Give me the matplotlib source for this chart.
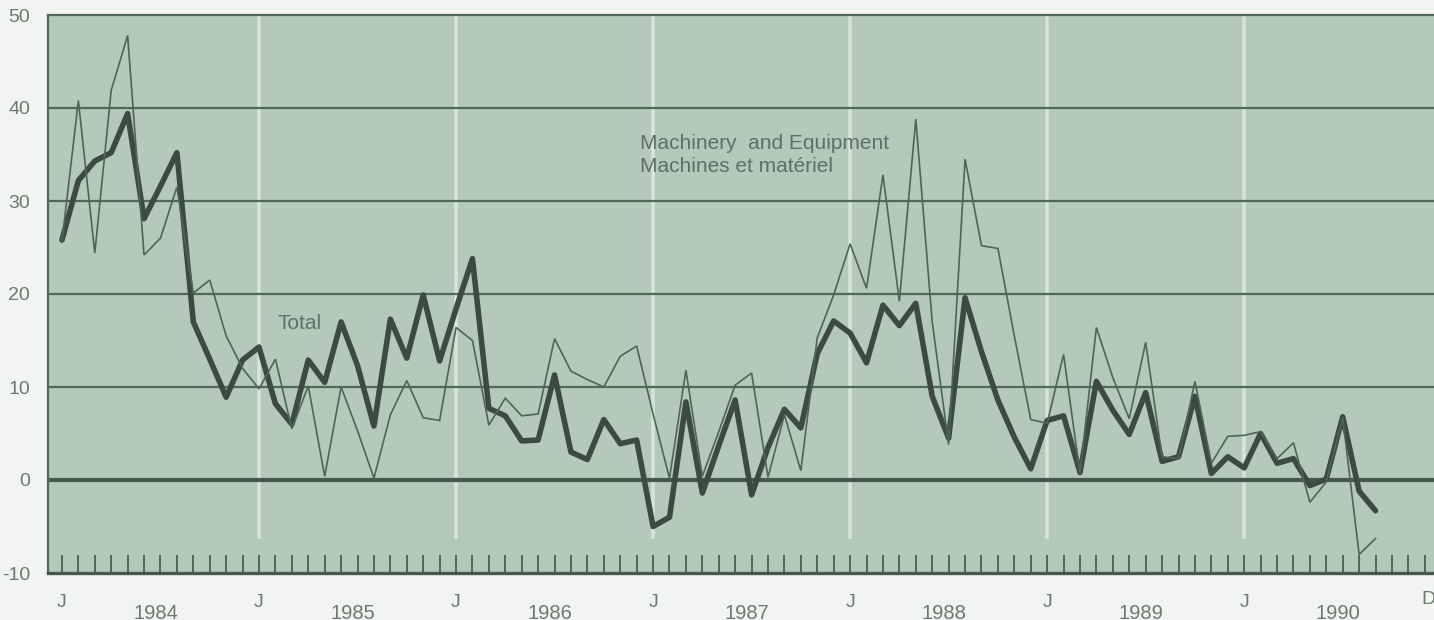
import matplotlib
matplotlib.use("Agg")
import matplotlib.pyplot as plt

# ---------------- data (monthly, Jan 1984 .. Sep 1990) ----------------
total = [25.8, 32.2, 34.3, 35.2, 39.4, 28.1, 31.6, 35.2, 17.0, 13.0,
         8.9, 12.9, 14.3, 8.2, 6.0, 12.9, 10.5, 17.0, 12.3, 5.8,
         17.3, 13.1, 19.9, 12.8, 18.4, 23.8, 7.7, 6.9, 4.2, 4.3,
         11.3, 3.0, 2.2, 6.5, 3.9, 4.3, -5.0, -4.0, 8.4, -1.4,
         3.7, 8.6, -1.6, 3.5, 7.6, 5.6, 13.6, 17.1, 15.8, 12.6,
         18.8, 16.6, 19.0, 9.0, 4.5, 19.6, 13.8, 8.6, 4.6, 1.2,
         6.4, 6.9, 0.8, 10.6, 7.5, 4.9, 9.4, 2.0, 2.5, 9.0,
         0.7, 2.5, 1.3, 5.0, 1.8, 2.3, -0.6, 0.1, 6.8, -1.2, -3.3]

machinery = [25.6, 40.8, 24.4, 41.9, 47.8, 24.2, 26.0, 31.5, 20.1, 21.5,
             15.5, 12.0, 9.8, 13.0, 5.5, 10.1, 0.4, 10.0, 5.3, 0.2,
             7.0, 10.7, 6.7, 6.4, 16.4, 15.0, 5.9, 8.8, 6.9, 7.1,
             15.2, 11.7, 10.8, 10.0, 13.3, 14.4, 7.1, 0.2, 11.8, 0.4,
             5.2, 10.2, 11.5, 0.3, 7.0, 1.0, 15.3, 19.9, 25.4, 20.6,
             32.8, 19.2, 38.8, 17.0, 3.8, 34.5, 25.2, 24.9, 15.5, 6.5,
             6.1, 13.5, 0.7, 16.4, 11.0, 6.6, 14.8, 2.5, 2.3, 10.6,
             1.8, 4.7, 4.8, 5.2, 2.3, 4.0, -2.4, -0.2, 6.7, -8.0, -6.3]

years = ["1984", "1985", "1986", "1987", "1988", "1989", "1990"]
y_ticks = [-10, 0, 10, 20, 30, 40, 50]
y_labels = ["-10", "0", "10", "20", "30", "40", "50"]
label_total = "Total"
label_mach = ["Machinery  and Equipment", "Machines et matériel"]

# ---------------- style ----------------
plt.rcParams["font.family"] = ["Liberation Sans", "DejaVu Sans"]
W, H = 1434, 620
panel = "#b5c9ba"
grid_c = "#4f6857"
text_c = "#6b7a71"
thick_c = "#3d4a42"
thin_c = "#4b6654"

fig = plt.figure(figsize=(W / 100, H / 100), dpi=100)
fig.patch.set_facecolor("#f2f4f1")
ax = fig.add_axes([48 / W, 1 - 573 / H, (W - 48) / W, (573 - 15) / H])
ax.set_facecolor(panel)

n_months = 84
ax.set_xlim(-0.85, 83.56)
ax.set_ylim(-10, 50)

# light vertical separators at each January
for j in range(12, n_months, 12):
    ax.axvline(j, ymin=0.065, ymax=1, color="#d6e4d9", lw=2.6, zorder=1)

# horizontal grid
for v in y_ticks[2:-1]:
    ax.axhline(v, color=grid_c, lw=1.6, zorder=2)
ax.axhline(0, color="#45584b", lw=3.0, zorder=2)

x = list(range(len(total)))
ax.plot(x, total, color=thick_c, lw=4.0, solid_joinstyle="round",
        solid_capstyle="round", zorder=4)
ax.plot(x, machinery, color=thin_c, lw=1.2, solid_joinstyle="miter", zorder=5)

# spines
for s in ["top", "left"]:
    ax.spines[s].set_color(grid_c)
    ax.spines[s].set_linewidth(1.6)
ax.spines["bottom"].set_color("#45584b")
ax.spines["bottom"].set_linewidth(2.4)
ax.spines["right"].set_visible(False)

# ticks
ax.set_xticks(range(0, n_months))
ax.tick_params(axis="x", direction="in", length=13, width=1.4, color=grid_c,
               labelbottom=False)
ax.set_yticks(y_ticks)
ax.set_yticklabels(y_labels)
ax.tick_params(axis="y", length=0, pad=13, labelsize=14, labelcolor=text_c)

# x labels
trans = ax.get_xaxis_transform()
for k, yr in enumerate(years):
    ax.text(12 * k, -0.052, "J", transform=trans, ha="center", va="center",
            fontsize=14, color=text_c, clip_on=False)
    ax.text(12 * k + 5.7, -0.072, yr, transform=trans, ha="center",
            va="center", fontsize=14.5, color=text_c, clip_on=False)
ax.text(83.2, -0.048, "D", transform=trans, ha="center", va="center",
        fontsize=14, color=text_c, clip_on=False)

# series labels
ax.text(13.15, 16.8, label_total, ha="left", va="center", fontsize=15,
        color="#5d7065")
ax.text(35.2, 36.2, label_mach[0], ha="left", va="center", fontsize=15,
        color="#5d7065")
ax.text(35.2, 33.7, label_mach[1], ha="left", va="center", fontsize=15,
        color="#5d7065")

fig.savefig("out.png", dpi=100, facecolor=fig.get_facecolor())
